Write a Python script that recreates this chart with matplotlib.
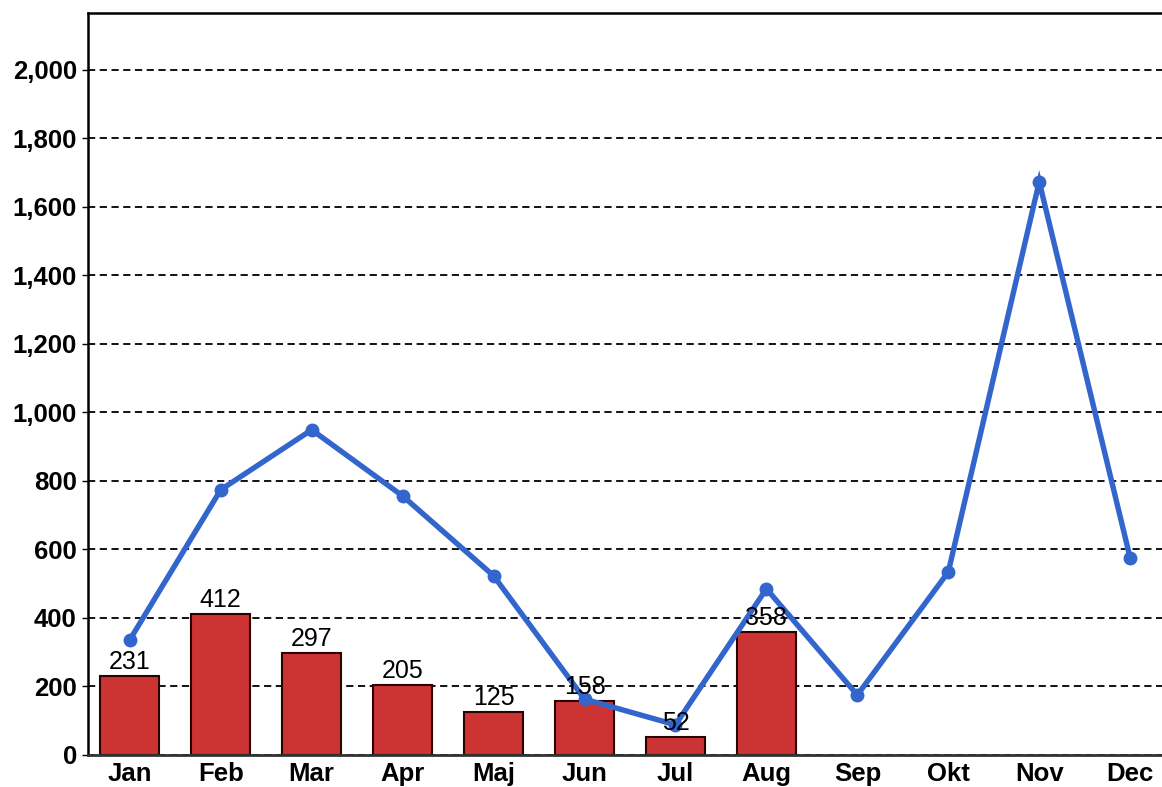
import numpy as np
import matplotlib.pyplot as plt

plt.rcParams['font.family'] = ['Liberation Sans', 'DejaVu Sans']

MONTHS = ['Jan', 'Feb', 'Mar', 'Apr', 'Maj', 'Jun', 'Jul', 'Aug', 'Sep', 'Okt', 'Nov', 'Dec']
BAR_VALUES = [231, 412, 297, 205, 125, 158, 52, 358]
LINE_VALUES = [336, 774, 949, 756, 523, 163, 88, 485, 175, 534, 1673, 575]
Y_TICKS = [0, 200, 400, 600, 800, 1000, 1200, 1400, 1600, 1800, 2000]

fig = plt.figure(figsize=(11.62, 7.87), dpi=100)
ax = fig.add_axes([0.0757, 0.0407, 0.9243, 0.943])

x = np.arange(len(MONTHS))
xb = np.arange(len(BAR_VALUES))

ax.bar(xb, BAR_VALUES, width=0.65, color='#CC3333', edgecolor='#2a0000',
       linewidth=1.5, zorder=2)
ax.plot(x, LINE_VALUES, color='#3366CC', linewidth=3.9, marker='o',
        markersize=9, solid_joinstyle='miter', zorder=3)

for xi, v in zip(xb, BAR_VALUES):
    ax.text(xi, v + 6, str(v), ha='center', va='bottom', fontsize=18,
            color='black', zorder=4)

ax.set_xlim(-0.46, 11.35)
ax.set_ylim(0, 2166)
ax.set_yticks(Y_TICKS)
ax.set_yticklabels([f'{t:,}' for t in Y_TICKS], fontsize=18.5, fontweight='bold')
ax.set_xticks(x)
ax.set_xticklabels(MONTHS, fontsize=18.5, fontweight='bold')
ax.tick_params(axis='x', length=0, pad=5)
ax.tick_params(axis='y', length=4, width=1, pad=4)

ax.grid(axis='y', color='black', linestyle=(0, (4, 2.5)), linewidth=1.3, zorder=1)
ax.set_axisbelow(True)

ax.spines['right'].set_visible(False)
ax.spines['left'].set_linewidth(1.8)
ax.spines['top'].set_linewidth(1.8)
ax.spines['bottom'].set_linewidth(2)
ax.spines['bottom'].set_color('#333333')

fig.savefig('out.png', dpi=100)
